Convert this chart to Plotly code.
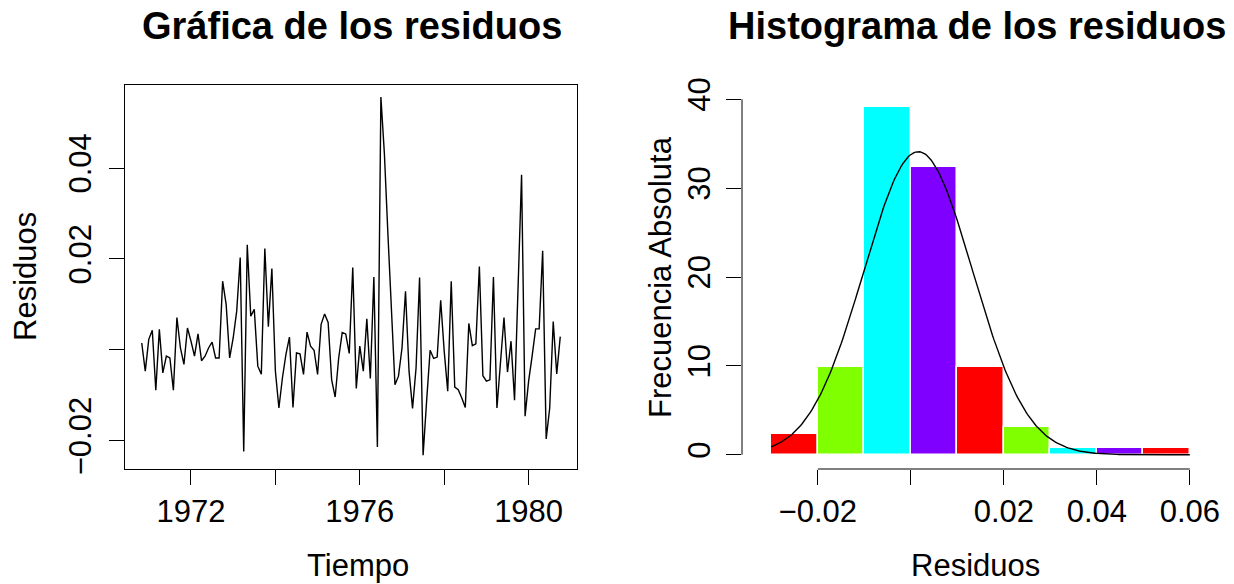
import math
import plotly.graph_objects as go

# Residuos mensuales (nov 1970 - oct 1980)
residuos = [
    0.0015, -0.0047, 0.0023, 0.0043, -0.0089, 0.0045, -0.0051, -0.0014, -0.0018, -0.0089,
    0.0071, 0.0004, -0.0032, 0.0048, 0.0019, -0.0014, 0.0035, -0.0024, -0.0014, 0.0004,
    0.0017, -0.0018, -0.0018, 0.0151, 0.0100, -0.0018, 0.0026, 0.0085, 0.0203, -0.0224,
    0.0231, 0.0074, 0.0089, -0.0036, -0.0054, 0.0223, 0.0051, 0.0179, -0.0047, -0.0128,
    -0.0062, -0.0010, 0.0028, -0.0127, -0.0007, -0.0009, -0.0054, 0.0039, 0.0008, -0.0001,
    -0.0054, 0.0056, 0.0079, 0.0060, -0.0066, -0.0104, -0.0018, 0.0038, 0.0035, -0.0008,
    0.0181, -0.0085, 0.0008, -0.0047, 0.0068, -0.0063, 0.0160, -0.0214, 0.0556, 0.0431,
    0.0254, 0.0071, -0.0077, -0.0058, 0.0004, 0.0129, -0.0047, -0.0129, -0.0040, 0.0159,
    -0.0232, -0.0113, -0.0001, -0.0019, -0.0016, 0.0109, -0.0003, -0.0091, 0.0151, -0.0082,
    -0.0088, -0.0106, -0.0127, 0.0058, 0.0009, 0.0013, 0.0183, -0.0057, -0.0069, -0.0066,
    0.0160, -0.0128, -0.0025, 0.0071, -0.0049, 0.0019, -0.0111, 0.0137, 0.0385, -0.0146,
    -0.0069, -0.0014, 0.0046, 0.0046, 0.0218, -0.0196, -0.0128, 0.0062, -0.0053, 0.0029,
]
inicio = 1970 + 10 / 12
tiempo = [inicio + i / 12 for i in range(len(residuos))]

# Histograma (densidad por intervalo)
limites = [-0.03, -0.02, -0.01, 0.0, 0.01, 0.02, 0.03, 0.04, 0.05, 0.06]
alturas = [2.3, 9.9, 39.1, 32.4, 9.9, 3.1, 0.75, 0.75, 0.75]
paleta = ["#FF0000", "#80FF00", "#00FFFF", "#8000FF"]

# Curva normal ajustada
media = 0.0016
desv = 0.0117

centros = [(limites[i] + limites[i + 1]) / 2 for i in range(len(alturas))]
anchos = [limites[i + 1] - limites[i] for i in range(len(alturas))]
colores = [paleta[i % len(paleta)] for i in range(len(alturas))]

n = 300
xs = [limites[0] + (limites[-1] - limites[0]) * k / (n - 1) for k in range(n)]
ys = [math.exp(-0.5 * ((x - media) / desv) ** 2) / (desv * math.sqrt(2 * math.pi)) for x in xs]

# Rango del eje temporal con un 4 % de holgura a cada lado
span = tiempo[-1] - tiempo[0]
rango_t = [tiempo[0] - 0.04 * span, tiempo[-1] + 0.04 * span]

W, H = 1234, 584
FONT = "Liberation Sans, Arial, Helvetica, sans-serif"
FS = 31

def px(x):
    return x / W

def py(y):
    return 1 - y / H

ydom = [py(469), py(85)]

fig = go.Figure()

fig.add_trace(go.Scatter(
    x=tiempo, y=residuos, mode="lines",
    line=dict(color="black", width=1.4),
    xaxis="x", yaxis="y", showlegend=False, hoverinfo="skip",
))

fig.add_trace(go.Bar(
    x=centros, y=alturas, width=anchos,
    marker=dict(color=colores, line=dict(color="white", width=1.5)),
    xaxis="x2", yaxis="y2", showlegend=False, hoverinfo="skip",
))

fig.add_trace(go.Scatter(
    x=xs, y=ys, mode="lines",
    line=dict(color="black", width=1.4),
    xaxis="x2", yaxis="y2", showlegend=False, hoverinfo="skip",
))

tick_common = dict(
    ticks="outside", ticklen=15, tickwidth=1, tickcolor="black",
    showgrid=False, zeroline=False, automargin=False,
    tickfont=dict(family=FONT, size=FS, color="black"),
)

fig.update_layout(
    width=W, height=H,
    margin=dict(l=0, r=0, t=0, b=0, pad=0),
    paper_bgcolor="white", plot_bgcolor="white",
    bargap=0,
    xaxis=dict(
        domain=[px(125), px(577)], anchor="y",
        range=rango_t,
        tickvals=[1972, 1974, 1976, 1978, 1980],
        ticktext=["1972", "", "1976", "", "1980"],
        showline=True, mirror=True, linecolor="black", linewidth=1,
        **tick_common,
    ),
    yaxis=dict(
        domain=ydom, anchor="x",
        range=[-0.02623, 0.05827],
        tickvals=[-0.02, 0.0, 0.02, 0.04],
        ticktext=["\u22120.02", "", "0.02", "0.04"],
        tickangle=-90, ticklabelstandoff=6,
        showline=True, mirror=True, linecolor="black", linewidth=1,
        **tick_common,
    ),
    xaxis2=dict(
        domain=[px(742), px(1194)], anchor="y2",
        range=[-0.0363, 0.0609],
        tickvals=[-0.02, 0.0, 0.02, 0.04, 0.06],
        ticktext=["\u22120.02", "", "0.02", "0.04", "0.06"],
        showline=False,
        **tick_common,
    ),
    yaxis2=dict(
        domain=ydom, anchor="x2",
        range=[-1.6, 41.6],
        tickvals=[0, 10, 20, 30, 40],
        tickangle=-90, ticklabelstandoff=4,
        showline=False,
        **tick_common,
    ),
    shapes=[
        dict(type="line", xref="x2", yref="y2 domain", x0=-0.02, x1=0.06, y0=0, y1=0,
             line=dict(color="black", width=1)),
        dict(type="line", xref="x2 domain", yref="y2", x0=0, x1=0, y0=0, y1=40,
             line=dict(color="black", width=1)),
    ],
)

def texto(t, x, y, size=FS, bold=False, angle=0):
    fig.add_annotation(
        text=f"<b>{t}</b>" if bold else t,
        x=px(x), y=py(y), xref="paper", yref="paper",
        xanchor="center", yanchor="middle", showarrow=False, textangle=angle,
        font=dict(family=FONT, size=size, color="black"),
    )

texto("Gráfica de los residuos", 352, 26, size=38, bold=True)
texto("Histograma de los residuos", 977, 26, size=38, bold=True)
texto("Tiempo", 358, 565)
texto("Residuos", 975, 565)
texto("Residuos", 25, 277, angle=-90)
texto("Frecuencia Absoluta", 660, 277, angle=-90)

fig.write_html("out.html")
